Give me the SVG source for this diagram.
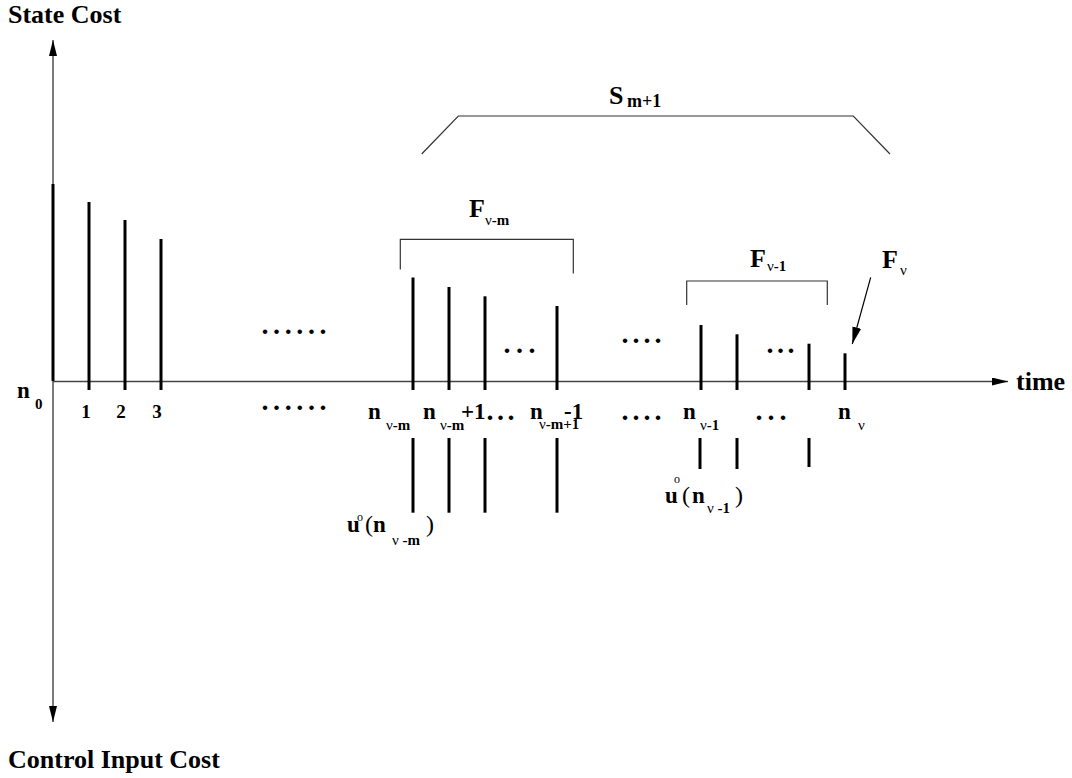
<svg xmlns="http://www.w3.org/2000/svg" width="1072" height="778" viewBox="0 0 1072 778">
<style>
text{font-family:"Liberation Serif","Times New Roman",serif;font-weight:bold;fill:#000}
.t26{font-size:26px}
.lb{font-size:23px}
.sub{font-size:15px}
.nu{font-weight:normal}
.tick{font-size:19px}
.par{font-weight:normal;font-size:24px}
.sup{font-weight:normal;font-size:12px}
.dots{font-size:28px}
.bar{stroke:#000;stroke-width:3;fill:none}
.axis{stroke:#444;stroke-width:1.4;fill:none}
.brk{stroke:#333;stroke-width:1.2;fill:none}
</style>
<defs>
<marker id="ah" markerUnits="userSpaceOnUse" markerWidth="16" markerHeight="8" refX="16" refY="4" orient="auto" viewBox="0 0 16 8">
<path d="M0,0 L16,4 L0,8 z" fill="#000"/>
</marker>
<marker id="ah2" markerUnits="userSpaceOnUse" markerWidth="17" markerHeight="9" refX="17" refY="4.5" orient="auto" viewBox="0 0 17 9">
<path d="M0,0 L17,4.5 L0,9 z" fill="#000"/>
</marker>
</defs>
<rect width="1072" height="778" fill="#fff"/>

<g id="connectors">
<line class="axis" x1="53" y1="381" x2="53" y2="40" marker-end="url(#ah)"/>
<line class="axis" x1="53" y1="381" x2="53" y2="722" marker-end="url(#ah)"/>
<line class="axis" x1="53" y1="381.5" x2="1008" y2="381.5" marker-end="url(#ah)"/>
<polyline class="brk" points="421.7,154 458.3,116 853.3,116 890,154"/>
<polyline class="brk" points="400.3,269.5 400.3,239.3 573.3,239.3 573.3,273.5"/>
<polyline class="brk" points="686.7,305 686.7,281 827.3,281 827.3,305"/>
<line stroke="#000" stroke-width="1.2" x1="870.7" y1="277.3" x2="852.3" y2="344" marker-end="url(#ah2)"/>
</g>

<g id="state-bars">
<line class="bar" x1="53" y1="184" x2="53" y2="381"/>
<line class="bar" x1="89" y1="202" x2="89" y2="390"/>
<line class="bar" x1="125" y1="220" x2="125" y2="390"/>
<line class="bar" x1="161" y1="239" x2="161" y2="390"/>
<line class="bar" x1="413" y1="277.5" x2="413" y2="390"/>
<line class="bar" x1="449" y1="287" x2="449" y2="390"/>
<line class="bar" x1="485" y1="296.3" x2="485" y2="390"/>
<line class="bar" x1="557" y1="306" x2="557" y2="390"/>
<line class="bar" x1="701" y1="325" x2="701" y2="390"/>
<line class="bar" x1="737" y1="334.3" x2="737" y2="390"/>
<line class="bar" x1="809" y1="343.7" x2="809" y2="390"/>
<line class="bar" x1="845" y1="353.3" x2="845" y2="390"/>
</g>

<g id="control-bars">
<line class="bar" x1="413" y1="438" x2="413" y2="512.7"/>
<line class="bar" x1="449" y1="438" x2="449" y2="512.7"/>
<line class="bar" x1="485" y1="438" x2="485" y2="512.7"/>
<line class="bar" x1="557" y1="438" x2="557" y2="512.7"/>
<line class="bar" x1="700" y1="438" x2="700" y2="469"/>
<line class="bar" x1="737" y1="438" x2="737" y2="469"/>
<line class="bar" x1="809" y1="438" x2="809" y2="467"/>
</g>

<g id="axis-labels">
<text class="t26" x="8" y="23">State Cost</text>
<text class="t26" x="8" y="768">Control Input Cost</text>
<text class="t26" x="1016" y="390">time</text>
</g>

<g id="tick-labels">
<text class="lb" x="17" y="398">n</text><text class="sub" x="35" y="409">0</text>
<text class="tick" x="86" y="418" text-anchor="middle">1</text>
<text class="tick" x="121" y="418" text-anchor="middle">2</text>
<text class="tick" x="157" y="418" text-anchor="middle">3</text>
<text class="lb" x="368" y="419">n</text><text class="sub" x="386" y="430"><tspan class="nu">ν</tspan>-m</text>
<text class="lb" x="423" y="419">n</text><text class="sub" x="440" y="430"><tspan class="nu">ν</tspan>-m</text><text class="lb" x="461" y="419">+1</text>
<text class="dots" x="486.5" y="420" letter-spacing="3.5">...</text>
<text class="lb" x="530" y="419">n</text><text class="sub" x="539" y="429"><tspan class="nu">ν</tspan>-m+1</text><text class="lb" x="564" y="419">-1</text>
<text class="dots" x="621.5" y="420" letter-spacing="4">....</text>
<text class="lb" x="683" y="419">n</text><text class="sub" x="700" y="430"><tspan class="nu">ν</tspan>-1</text>
<text class="dots" x="755.5" y="420" letter-spacing="5">...</text>
<text class="lb" x="838" y="419">n</text><text class="sub" x="858" y="430"><tspan class="nu">ν</tspan></text>
</g>

<g id="gap-dots">
<text class="dots" x="261.5" y="334" letter-spacing="4.6">......</text>
<text class="dots" x="261.5" y="410" letter-spacing="4.6">......</text>
<text class="dots" x="503.5" y="353" letter-spacing="5.5">...</text>
<text class="dots" x="621.5" y="343" letter-spacing="4">....</text>
<text class="dots" x="766.5" y="353" letter-spacing="3.5">...</text>
</g>

<g id="S-label">
<text class="t26" x="609" y="104">S</text><text x="627" y="107" font-size="18">m+1</text>
</g>
<g id="F-vm-label">
<text class="t26" x="469" y="217">F</text><text class="sub" x="485" y="225"><tspan class="nu">ν</tspan>-m</text>
</g>
<g id="F-v1-label">
<text class="t26" x="750" y="267">F</text><text class="sub" x="767" y="271"><tspan class="nu">ν</tspan>-1</text>
</g>
<g id="F-v-label">
<text class="t26" x="882" y="268">F</text><text class="sub" x="900" y="275"><tspan class="nu">ν</tspan></text>
</g>

<g id="u-vm-label">
<text class="lb" x="347" y="532">u</text><text class="sup" x="357" y="521">o</text>
<text class="par" x="365" y="532">(</text>
<text class="lb" x="373" y="532">n</text><text class="sub" x="392" y="545"><tspan class="nu">ν</tspan> -m</text>
<text class="par" x="426" y="532">)</text>
</g>
<g id="u-v1-label">
<text class="lb" x="665" y="503">u</text><text class="sup" x="674" y="483">o</text>
<text class="par" x="682" y="503">(</text>
<text class="lb" x="692" y="503">n</text><text class="sub" x="707" y="513"><tspan class="nu">ν</tspan> -1</text>
<text class="par" x="735" y="503">)</text>
</g>
</svg>
